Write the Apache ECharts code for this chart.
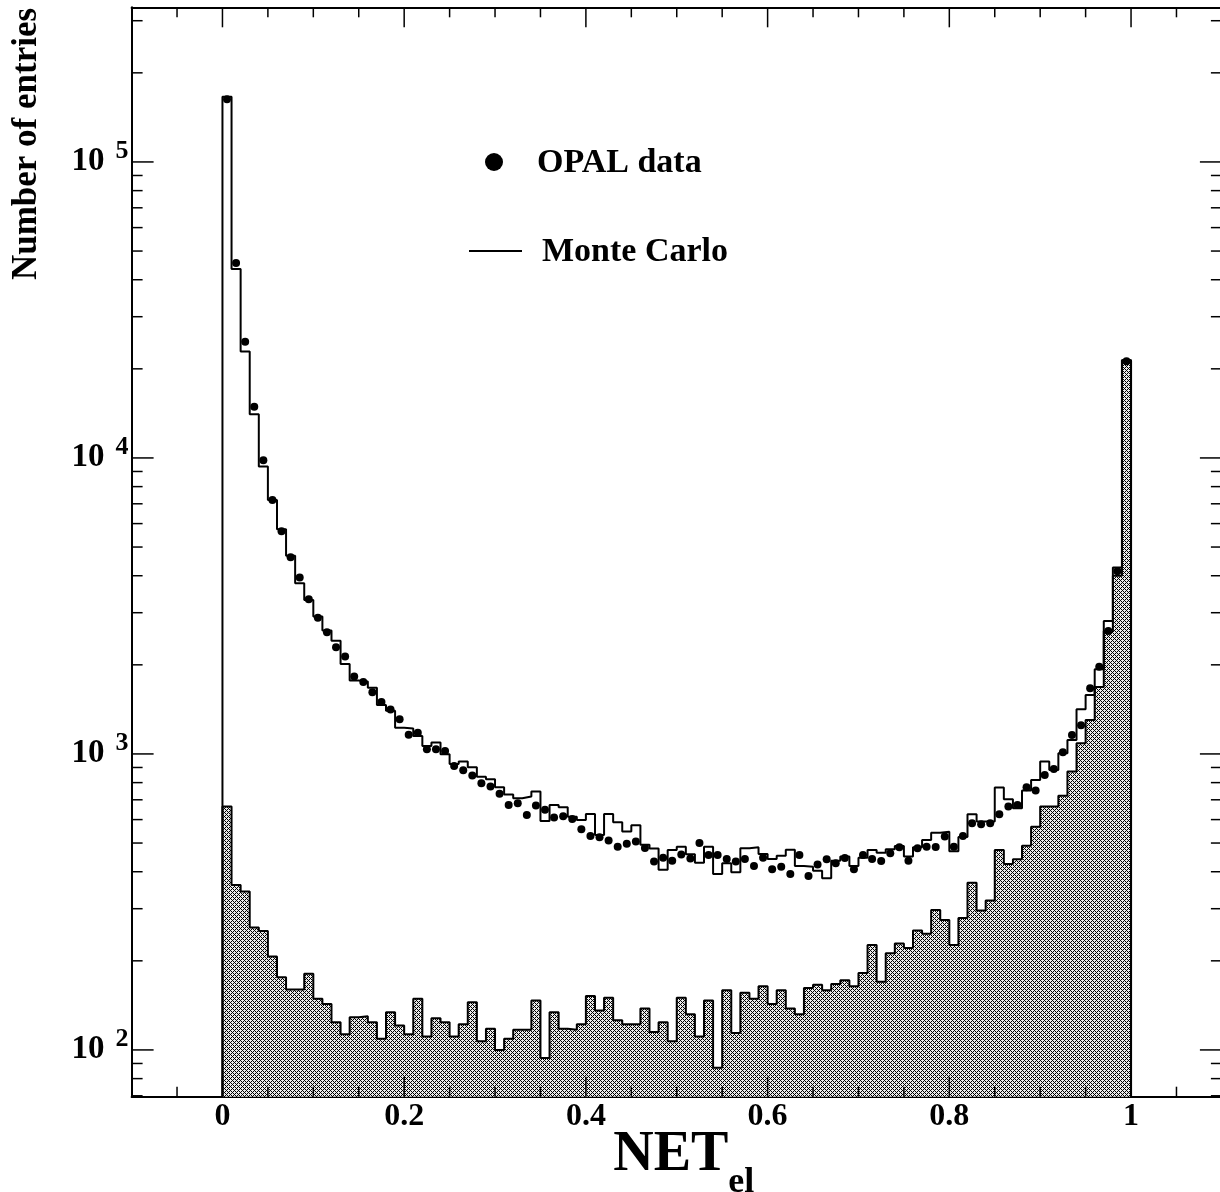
<!DOCTYPE html>
<html><head><meta charset="utf-8">
<script src="https://cdn.jsdelivr.net/npm/echarts@6/dist/echarts.min.js"></script>
<style>html,body{margin:0;padding:0;background:#fff}#c{width:1220px;height:1192px}</style>
</head><body><div id="c"></div>
<script>
// ---------------- data (100 bins of width 0.01 on [0,1]) ----------------
const binWidth = 0.01;
const monteCarlo = [
166000,43500,22900,14050,9350,7210,5740,4670,3773,3312,
2910,2610,2414,2014,1769,1756,1675,1464,1398,1227,
1218,1150,1064,1092,997,925,942,902,838,821,
772,729,708,718,746,594,672,660,614,598,
627,532,627,588,547,574,493,479,406,474,
486,458,429,486,393,427,398,480,484,459,
442,453,475,418,416,403,380,436,450,418,
446,474,464,476,489,450,484,512,542,546,
469,524,626,591,591,770,703,655,752,817,
942,883,1005,1115,1416,1583,1932,2815,4266,21400];
const opalData = [
163000,45600,24700,14900,9820,7210,5650,4620,3945,3332,
2887,2577,2294,2133,1825,1751,1616,1498,1412,1310,
1162,1180,1037,1037,1023,911,880,845,796,776,
733,672,681,622,669,648,610,616,603,557,
528,523,510,486,497,506,481,433,446,436,
457,443,500,456,456,442,433,442,418,446,
408,416,393,456,387,423,441,427,445,408,
456,442,435,462,484,436,480,486,485,526,
486,528,583,579,583,626,664,672,772,752,
849,890,1013,1159,1250,1668,1971,2604,4140,21200];
const background = [
664,361,343,259,252,207,176,160,160,181,
149,143,124,113,129,130,124,109,134,121,
113,149,111,128,124,111,122,145,107,118,
100,109,117,117,147,94,134,118,117,122,
152,136,150,126,122,122,138,115,124,107,
150,132,111,147,87,159,114,156,149,164,
143,159,138,132,162,166,159,167,172,164,
182,226,170,212,229,221,253,247,297,275,
226,279,367,296,320,474,425,441,490,568,
664,664,723,872,1087,1302,1683,2604,4003,21400];
const xTickLabels = [0, 0.2, 0.4, 0.6, 0.8, 1];
const xMinorTicks = [-0.05,0.05,0.1,0.15,0.25,0.3,0.35,0.45,0.5,0.55,0.65,0.7,0.75,0.85,0.9,0.95,1.05];
const yMajorTicks = [100, 1000, 10000, 100000];
const yMinorTicks = [70,80,90,200,300,400,500,600,700,800,900,2000,3000,4000,5000,6000,7000,8000,9000,
  20000,30000,40000,50000,60000,70000,80000,90000,200000,300000];
const xRange = [-0.1, 1.1];
const yRange = [69.5, 333000];

// ---------------- helpers ----------------
function stepPoints(vals) {
  const pts = [[0, yRange[0]]];
  vals.forEach((v, i) => pts.push([+(i * binWidth).toFixed(4), v]));
  pts.push([1, vals[vals.length - 1]]);
  pts.push([1, yRange[0]]);
  return pts;
}
function hatchPattern() {
  const c = document.createElement('canvas');
  c.width = 4; c.height = 4;
  const g = c.getContext('2d');
  g.fillStyle = '#fff'; g.fillRect(0, 0, 4, 4);
  g.fillStyle = '#000';
  for (let y = 0; y < 4; y++) for (let x = 0; x < 4; x++) {
    if ((x + y) % 4 === 0 || ((x - y) % 4 + 4) % 4 === 0) g.fillRect(x, y, 1, 1);
  }
  g.fillStyle = 'rgba(0,0,0,0.08)';
  for (let y = 0; y < 4; y++) for (let x = 0; x < 4; x++) {
    if (!((x + y) % 4 === 0 || ((x - y) % 4 + 4) % 4 === 0)) g.fillRect(x, y, 1, 1);
  }
  return c;
}
const tickData = [];
xTickLabels.forEach(v => tickData.push([v, 1000, 0]));
xMinorTicks.forEach(v => tickData.push([v, 1000, 1]));
yMajorTicks.forEach(v => tickData.push([0.5, v, 2]));
yMinorTicks.forEach(v => tickData.push([0.5, v, 3]));

const FONT = 'Liberation Serif, Times New Roman, serif';
const chart = echarts.init(document.getElementById('c'), null, {renderer: 'canvas'});
chart.setOption({
  animation: false,
  backgroundColor: '#fff',
  grid: {left: 131.6, top: 7.3, width: 1090.3, height: 1089.4, containLabel: false, outerBoundsMode: 'none'},
  xAxis: [{
    type: 'value', position: 'bottom', min: xRange[0], max: xRange[1],
    axisLine: {show: true, onZero: false, lineStyle: {color: '#000', width: 2}},
    axisTick: {show: false}, splitLine: {show: false},
    axisLabel: {customValues: xTickLabels, formatter: v => String(+(+v).toFixed(1)),
      fontFamily: FONT, fontWeight: 'bold', fontSize: 32, color: '#000', margin: 4},
    name: '{m|NET}{s|el}', nameLocation: 'middle', nameGap: 14, nameMoveOverlap: false,
    nameTextStyle: {padding: [0, 0, 0, 14], rich: {
      m: {fontFamily: FONT, fontWeight: 'bold', fontSize: 56, lineHeight: 90, color: '#000', verticalAlign: 'middle'},
      s: {fontFamily: FONT, fontWeight: 'bold', fontSize: 36, color: '#000', verticalAlign: 'bottom'}
    }}
  }, {
    type: 'value', position: 'top', min: xRange[0], max: xRange[1],
    axisLine: {show: true, onZero: false, lineStyle: {color: '#000', width: 2}},
    axisTick: {show: false}, splitLine: {show: false}, axisLabel: {show: false}
  }],
  yAxis: [{
    type: 'log', logBase: 10, position: 'left', min: yRange[0], max: yRange[1],
    axisLine: {show: true, onZero: false, lineStyle: {color: '#000', width: 2}},
    axisTick: {show: false}, splitLine: {show: false}, minorTick: {show: false},
    axisLabel: {
      margin: 3,
      formatter: v => {
        const e = Math.log10(v);
        if (Math.abs(e - Math.round(e)) > 1e-6) return '';
        return '{b|10}{s|' + Math.round(e) + '}';
      },
      rich: {
        b: {fontFamily: FONT, fontWeight: 'bold', fontSize: 33, lineHeight: 48, color: '#000', verticalAlign: 'middle'},
        s: {fontFamily: FONT, fontWeight: 'bold', fontSize: 26, color: '#000', verticalAlign: 'top', padding: [0, 0, 0, 11]}
      }
    }
  }, {
    type: 'log', logBase: 10, position: 'right', min: yRange[0], max: yRange[1],
    axisLine: {show: true, onZero: false, lineStyle: {color: '#000', width: 2}},
    axisTick: {show: false}, splitLine: {show: false}, axisLabel: {show: false}
  }],
  series: [{
    name: 'background', type: 'line', step: 'end', data: stepPoints(background),
    symbol: 'none', clip: true,
    lineStyle: {color: '#000', width: 2},
    areaStyle: {origin: 'start', color: {image: hatchPattern(), repeat: 'repeat'}, opacity: 1},
    z: 2
  }, {
    name: 'Monte Carlo', type: 'line', step: 'end', data: stepPoints(monteCarlo),
    symbol: 'none', clip: true, lineStyle: {color: '#000', width: 2}, z: 3
  }, {
    name: 'OPAL data', type: 'scatter', symbol: 'circle', symbolSize: 8,
    data: opalData.map((v, i) => [+((i + 0.5) * binWidth).toFixed(4), v]),
    itemStyle: {color: '#000', opacity: 1}, z: 4
  }, {
    name: 'ticks', type: 'custom', data: tickData, encode: {x: 0, y: 1}, z: 5, silent: true,
    renderItem: (params, api) => {
      const cs = params.coordSys;
      const kind = api.value(2);
      const st = {stroke: '#000', lineWidth: 1.5};
      if (kind < 2) {
        const x = api.coord([api.value(0), 1000])[0];
        const len = kind === 0 ? 20 : 10;
        const yb = cs.y + cs.height, yt = cs.y;
        return {type: 'group', children: [
          {type: 'line', shape: {x1: x, y1: yb, x2: x, y2: yb - len}, style: st},
          {type: 'line', shape: {x1: x, y1: yt, x2: x, y2: yt + len}, style: st}
        ]};
      }
      const y = api.coord([0.5, api.value(1)])[1];
      const len = kind === 2 ? 22 : 11;
      const xl = cs.x, xr = cs.x + cs.width;
      return {type: 'group', children: [
        {type: 'line', shape: {x1: xl, y1: y, x2: xl + len, y2: y}, style: st},
        {type: 'line', shape: {x1: xr, y1: y, x2: xr - len, y2: y}, style: st}
      ]};
    }
  }],
  graphic: [
    {type: 'text', x: 27, y: 144, rotation: Math.PI / 2,
      style: {text: 'Number of entries', font: 'bold 35px ' + FONT, fill: '#000', align: 'center', verticalAlign: 'middle'}},
    {type: 'circle', shape: {cx: 494, cy: 162, r: 9}, style: {fill: '#000'}},
    {type: 'text', x: 537, y: 163, style: {text: 'OPAL data', font: 'bold 34px ' + FONT, fill: '#000', align: 'left', verticalAlign: 'middle'}},
    {type: 'line', shape: {x1: 469, y1: 251, x2: 522, y2: 251}, style: {stroke: '#000', lineWidth: 2}},
    {type: 'text', x: 542, y: 252, style: {text: 'Monte Carlo', font: 'bold 34px ' + FONT, fill: '#000', align: 'left', verticalAlign: 'middle'}}
  ]
});
</script></body></html>
